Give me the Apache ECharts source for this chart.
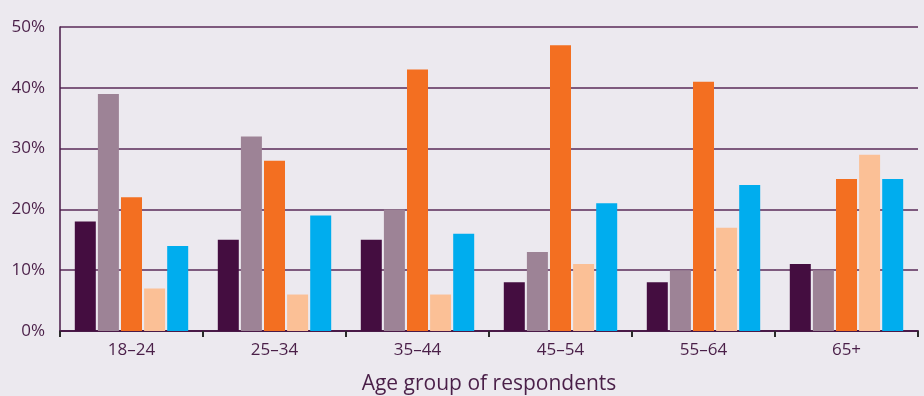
<!DOCTYPE html>
<html>
<head>
<meta charset="utf-8">
<script src="https://cdn.jsdelivr.net/npm/echarts@6/dist/echarts.min.js"></script>
<style>
  html, body { margin: 0; padding: 0; background: #ece9ef; }
  #chart { width: 924px; height: 396px; }
</style>
</head>
<body>
<div id="chart"></div>
<script>
const categories = ["18–24", "25–34", "35–44", "45–54", "55–64", "65+"];
const seriesA = [18, 15, 15, 8, 8, 11];
const seriesB = [39, 32, 20, 13, 10, 10];
const seriesC = [22, 28, 43, 47, 41, 25];
const seriesD = [7, 6, 6, 11, 17, 29];
const seriesE = [14, 19, 16, 21, 24, 25];
const colors = ["#440d40", "#9d8396", "#f36f21", "#fbc096", "#00adee"];

const textColor = "#4a1f48";
const fontFamily = "'Open Sans', 'Noto Sans', sans-serif";

const bar = (data) => ({
  type: "bar",
  data,
  barWidth: 21,
  barGap: "10%",
});

const chart = echarts.init(document.getElementById("chart"));
chart.setOption({
  backgroundColor: "#ece9ef",
  color: colors,
  animation: false,
  grid: { top: 27, left: 60, right: 6, bottom: 65, outerBoundsMode: "none", containLabel: false },
  xAxis: {
    type: "category",
    data: categories,
    name: "Age group of respondents",
    nameLocation: "middle",
    nameGap: 43,
    nameTextStyle: { color: textColor, fontSize: 21, fontFamily },
    axisLine: { lineStyle: { color: "#4a1a48", width: 2 } },
    axisTick: { show: true, length: 6, lineStyle: { color: "#2a2a2a", width: 2 } },
    axisLabel: { color: textColor, fontSize: 17, fontFamily, margin: 11 },
  },
  yAxis: {
    type: "value",
    min: 0,
    max: 50,
    interval: 10,
    axisLine: { show: true, lineStyle: { color: "#4a1a48", width: 1.5 } },
    axisTick: { show: false },
    axisLabel: { color: textColor, fontSize: 17, fontFamily, margin: 15, formatter: "{value}%" },
    splitLine: { lineStyle: { color: "#5a2a58", width: 1.5 } },
  },
  series: [bar(seriesA), bar(seriesB), bar(seriesC), bar(seriesD), bar(seriesE)],
});
</script>
</body>
</html>
